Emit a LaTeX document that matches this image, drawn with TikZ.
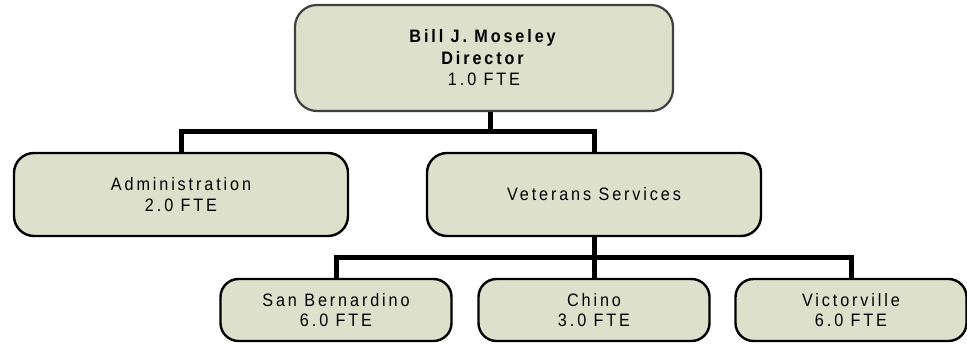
\documentclass[tikz,border=0pt]{standalone}
\usepackage{fontspec}
\setmainfont{Liberation Sans}[LetterSpace=16, FakeStretch=0.9]
\definecolor{boxfill}{HTML}{DDE0CB}
\definecolor{topedge}{HTML}{404040}
\begin{document}
\begin{tikzpicture}[x=1pt,y=-1pt,
  box/.style={draw=black, line width=2.4pt, fill=boxfill, rounded corners=20pt,
    align=center, inner sep=0pt, font=\fontsize{18}{21.5}\selectfont},
  topbox/.style={box, draw=topedge, line width=2.2pt, rounded corners=22pt},
  midbox/.style={box, minimum width=334pt, minimum height=83pt},
  lowbox/.style={box, minimum width=231pt, minimum height=62pt, rounded corners=18pt,
    font=\fontsize{18}{19.5}\selectfont},
  conn/.style={draw=black, line width=5pt, line join=miter, line cap=butt}]
\useasboundingbox (0,0) rectangle (967,343);
\coordinate (j1) at (490,131);
\coordinate (j2) at (594,257);
\node[topbox, minimum width=378pt, minimum height=106pt] (top) at (484,58)
  {\textbf{Bill J. Moseley}\\\textbf{Director}\\1.0 FTE};
\node[midbox] (admin) at (181,194.5) {Administration\\2.0 FTE};
\node[midbox] (vet) at (594,194.5) {Veterans Services};
\node[lowbox] (sanb) at (336,310) {San Bernardino\\6.0 FTE};
\node[lowbox] (chino) at (594,310) {Chino\\3.0 FTE};
\node[lowbox] (vict) at (851,310) {Victorville\\6.0 FTE};
\draw[conn] (top.south -| j1) -- (j1);
\draw[conn] (admin.north) |- (j1) -| (vet.north);
\draw[conn] (vet.south) -- (j2);
\draw[conn] (sanb.north) |- (j2) -| (vict.north);
\draw[conn] (j2) -- (chino.north);
\end{tikzpicture}
\end{document}
